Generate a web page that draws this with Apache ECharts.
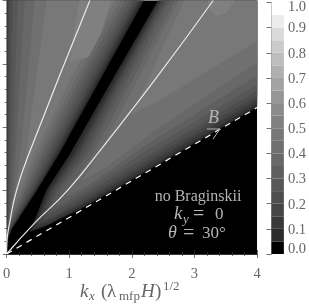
<!DOCTYPE html>
<html><head><meta charset="utf-8"><style>html,body{margin:0;padding:0;background:#fff}#c{width:309px;height:305px}</style>
<script src="https://cdn.jsdelivr.net/npm/echarts@6/dist/echarts.min.js"></script></head><body><div id="c"></div>
<script>
const barTicks=[0,0.1,0.2,0.3,0.4,0.5,0.6,0.7,0.8,0.9,1.0];
const levelGrays=['#000000','#2c2c2c','#393939','#454545','#4e4e4e','#575757','#5f5f5f','#686868','#707070','#787878','#808080','#8b8b8b','#969696','#a3a3a3','#b0b0b0','#bdbdbd','#cbcbcb','#dadada','#ececec','#ffffff'];
const bLine=[[0,0],[4,2.31]];
const whiteLeft=[[0,0],[0.003,0.17],[0.05,0.5],[0.16,1.01],[0.38,1.64],[1.33,4]];
const whiteRight=[[0,0],[0.45,0.49],[0.97,1.0],[1.545,1.70],[2.385,2.77],[3.30,4]];
const L1=[[0.01,0.12],[0.005,0.5],[0.005,4],[2.19,4],[1.52,2.8],[0.83,1.57],[0.485,1.01],[0.25,0.65],[0.09,0.41],[0.02,0.22]];
const L2=[[0.01,0.3],[0.01,4],[2.147,4],[1.48,2.8],[0.80,1.57],[0.465,1.01],[0.235,0.65],[0.08,0.41],[0.02,0.28]];
const L3=[[0.015,0.34],[0.02,4],[2.108,4],[1.44,2.8],[0.76,1.57],[0.44,1.01],[0.215,0.65],[0.07,0.41]];
const L4=[[0.02,0.38],[0.025,1.57],[0.045,4],[2.068,4],[1.39,2.8],[0.72,1.57],[0.41,1.01],[0.19,0.65],[0.06,0.42]];
const L5=[[0.025,0.42],[0.05,1.57],[0.1,4],[2.02,4],[1.33,2.8],[0.67,1.57],[0.37,1.01],[0.165,0.65],[0.05,0.45]];
const L6=[[0.035,0.47],[0.09,1.57],[0.18,4],[1.965,4],[1.26,2.8],[0.62,1.57],[0.33,1.01],[0.14,0.65]];
const L7=[[0.05,0.52],[0.1,0.9],[0.14,1.57],[0.29,4],[1.894,4],[1.19,2.8],[0.56,1.57],[0.29,1.01],[0.10,0.62]];
const L8=[[0.11,0.72],[0.15,1.1],[0.22,1.57],[0.45,4],[1.815,4],[1.12,2.8],[0.50,1.57],[0.25,1.01]];
const L9=[[0.2,0.98],[0.31,1.57],[0.42,2.4],[0.64,4],[1.735,4],[1.04,2.8],[0.44,1.57]];
const L10=[[1.01,3.03],[1.07,3.49],[1.17,4],[1.67,4],[1.51,3.49],[1.31,3.11]];
const R1=[[0.37,0.35],[0.40,0.41],[0.64,1.01],[1.01,1.57],[1.72,2.8],[2.42,4],[4,4],[4,2.32],[2.26,1.32],[1.2,0.72],[0.6,0.43]];
const R2=[[0.43,0.40],[0.46,0.46],[0.68,1.01],[1.07,1.57],[1.77,2.8],[2.45,4],[4,4],[4,2.37],[2.26,1.36],[1.2,0.76],[0.7,0.49]];
const R3=[[0.5,0.46],[0.72,1.01],[1.12,1.57],[1.81,2.8],[2.48,4],[4,4],[4,2.43],[2.26,1.42],[1.2,0.80],[0.75,0.56]];
const R4=[[0.58,0.53],[0.76,1.01],[1.17,1.57],[1.85,2.8],[2.52,4],[4,4],[4,2.5],[2.26,1.48],[1.2,0.85],[0.8,0.62]];
const R5=[[0.66,0.62],[0.81,1.01],[1.23,1.57],[1.9,2.8],[2.56,4],[4,4],[4,2.58],[2.26,1.55],[1.2,0.91]];
const R6=[[0.78,0.73],[0.87,1.01],[1.29,1.57],[1.96,2.8],[2.61,4],[4,4],[4,2.68],[2.26,1.64],[1.2,0.97]];
const R7=[[0.95,0.9],[0.98,1.01],[1.37,1.57],[2.04,2.8],[2.69,4],[4,4],[4,2.82],[2.26,1.74],[1.3,1.08]];
const R8=[[1.2,1.15],[1.47,1.57],[2.12,2.8],[2.75,4],[4,4],[4,3.02],[2.39,1.96],[1.6,1.38]];
const R9=[[2.0,2.2],[2.84,4],[4,4],[4,3.35],[3.2,2.88],[2.39,2.39]];
const R10=[[3.35,3.76],[3.25,3.85],[3.22,4],[3.65,4],[3.5,3.8]];
const leftLobes=[L1,L2,L3,L4,L5,L6,L7,L8,L9,L10];
const rightLobes=[R1,R2,R3,R4,R5,R6,R7,R8,R9,R10];

const polys=[];
leftLobes.forEach((p,i)=>polys.push({pts:p,c:levelGrays[i+1]}));
rightLobes.forEach((p,i)=>polys.push({pts:p,c:levelGrays[i+1]}));
const SERIF='"Liberation Serif", serif';
const GC='#666';
const LT='#b4b4b4';
function txt(x,base,text,size,col,style,align){return {type:'text',x:x,y:base-0.34*size,silent:true,z:10,style:{text:text,fill:col||GC,font:(style?style+' ':'')+size+'px '+SERIF,align:align||'left',verticalAlign:'middle'}};}
const axC='#333';
function ax(extra){return Object.assign({type:'value',min:0,max:4,interval:1,axisLine:{show:true,lineStyle:{color:axC,width:1}},axisTick:{show:true,inside:true,length:4,lineStyle:{color:axC,width:0.7}},minorTick:{show:true,splitNumber:5,length:2,lineStyle:{color:axC,width:0.7}},splitLine:{show:false},minorSplitLine:{show:false},axisLabel:{show:false}},extra);}
const chart=echarts.init(document.getElementById('c'),null,{renderer:'canvas'});
const lblFont={fontFamily:SERIF,fontSize:14.5,color:GC};
chart.setOption({
 animation:false,
 backgroundColor:'#fff',
 grid:[{left:4.5,top:0.5,width:252.5,height:253.5,show:true,backgroundColor:'#000',borderWidth:0},
       {left:271.5,top:0.5,width:16,height:253.5,show:true,backgroundColor:'#fff',borderWidth:0}],
 xAxis:[ax({gridIndex:0,position:'bottom',axisLine:{show:true,lineStyle:{color:'#bbb',width:1}},axisLabel:Object.assign({show:true,margin:13},lblFont)}),
        ax({gridIndex:0,position:'top'}),
        {gridIndex:1,type:'value',min:0,max:1,show:false}],
 yAxis:[ax({gridIndex:0,position:'left'}),
        ax({gridIndex:0,position:'right',axisLine:{show:true,lineStyle:{color:'#bbb',width:1}}}),
        {gridIndex:1,type:'value',position:'right',min:0,max:1,interval:0.1,
         axisLine:{show:true,lineStyle:{color:'#999',width:1}},
         axisTick:{show:true,inside:true,length:5,lineStyle:{color:'#777',width:1}},splitLine:{show:false},
         axisLabel:Object.assign({show:true,margin:4,formatter:v=>v===0?'{lo|0.0}':v===1?'{hi|1.0}':'{n|'+v.toFixed(1)+'}',
           rich:{lo:Object.assign({padding:[0,0,10,0]},lblFont),hi:Object.assign({padding:[10,0,0,0]},lblFont),n:Object.assign({padding:[2,0,0,0]},lblFont)}},lblFont)}],
 series:[
  {type:'custom',xAxisIndex:0,yAxisIndex:0,silent:true,clip:true,z:2,
   data:polys.map((p,i)=>[p.pts[0][0],p.pts[0][1],i]),
   renderItem:(params,api)=>{const p=polys[params.dataIndex];
     return {type:'polygon',shape:{points:p.pts.map(q=>api.coord(q))},style:{fill:p.c,stroke:p.c,lineWidth:0.3}};}},
  {type:'line',xAxisIndex:0,yAxisIndex:0,data:whiteLeft,showSymbol:false,smooth:true,silent:true,z:3,lineStyle:{color:'#e8e8e8',width:1.2}},
  {type:'line',xAxisIndex:0,yAxisIndex:0,data:whiteRight,showSymbol:false,smooth:true,silent:true,z:3,lineStyle:{color:'#e8e8e8',width:1.2}},
  {type:'line',xAxisIndex:0,yAxisIndex:0,data:bLine,showSymbol:false,silent:true,z:3,lineStyle:{color:'#fff',width:1.2,type:[6,5.5]}},
  {type:'custom',xAxisIndex:2,yAxisIndex:2,silent:true,z:2,
   data:levelGrays.map((c,i)=>[0,i*0.05,(i+1)*0.05]),
   renderItem:(params,api)=>{const a=api.coord([0,api.value(1)]),b=api.coord([1,api.value(2)]);
     return {type:'rect',shape:{x:a[0],y:b[1],width:b[0]-a[0],height:a[1]-b[1]},style:{fill:levelGrays[params.dataIndex]}};}}
 ],
 graphic:[
  txt(80,298,'k',19,GC,'italic'),txt(89,301,'x',13,GC,'italic'),txt(101,298,'(',19),txt(107,298,'\u03bb',19),txt(119,301,'mfp',13),txt(141,298,'H',19,GC,'italic'),txt(155,298,')',19),txt(163,291,'1/2',13),
  txt(208,124,'B',18,LT,'italic'),
  {type:'polyline',silent:true,z:10,shape:{points:[[207,129],[220,129],[213,139]]},style:{stroke:LT,fill:null,lineWidth:1}},
  txt(198,202,'no Braginskii',16,LT,'','center'),
  txt(174,220,'k',19,LT,'italic'),txt(183,224,'y',13,LT,'italic'),txt(193,222,'=',20,LT),txt(215,220,'0',17,LT),
  txt(168,239,'\u03b8',18,LT,'italic'),txt(183,241,'=',20,LT),txt(202,239,'30\u00b0',17,LT)
 ]
});
</script></body></html>
